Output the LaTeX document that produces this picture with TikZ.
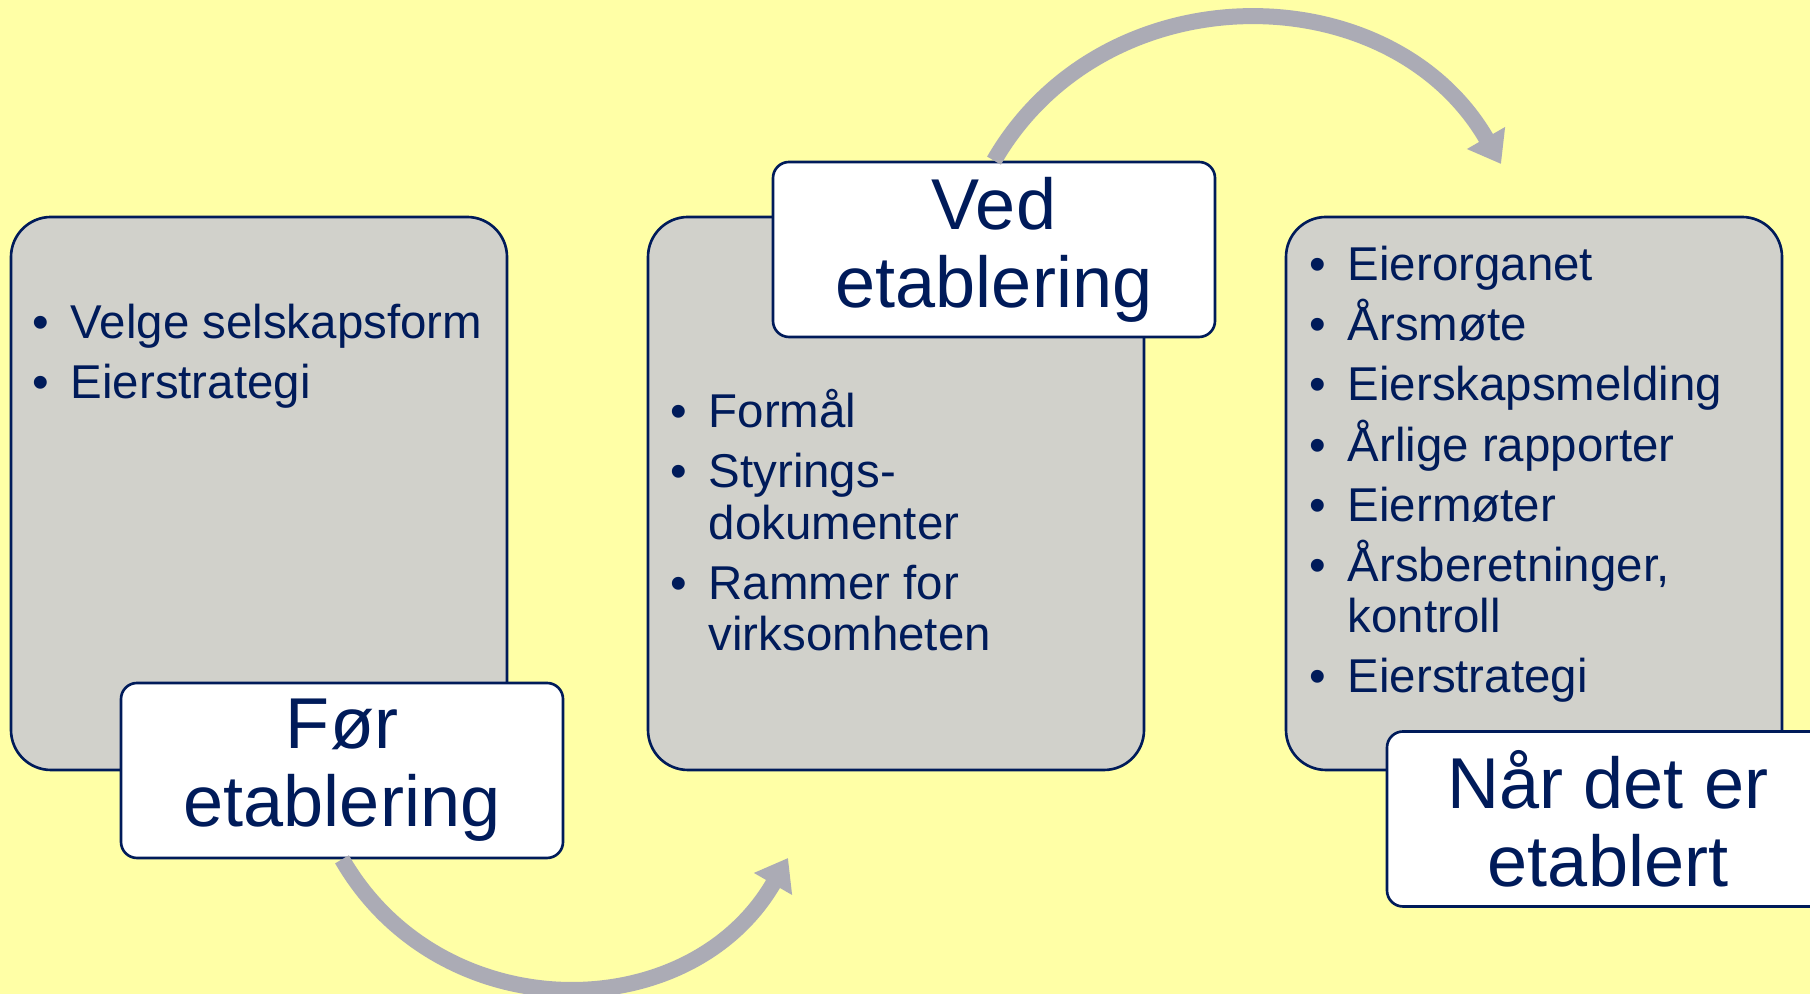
\documentclass[tikz,border=0pt]{standalone}
\usepackage{fontspec}
\setmainfont{Liberation Sans}
\usetikzlibrary{arrows.meta}

\definecolor{bgyellow}{HTML}{FFFFA6}
\definecolor{boxgray}{HTML}{D1D1CB}
\definecolor{navy}{HTML}{001B5A}
\definecolor{arrowgray}{HTML}{ABABB5}

\newcommand{\itm}{\llap{\textbullet\hspace{0.217cm}}}

\begin{document}
\begin{tikzpicture}[
  stagebox/.style={draw=navy, line width=0.75pt, fill=boxgray, rounded corners=0.4cm, minimum width=4.96cm, minimum height=5.53cm, inner sep=0pt},
  stagelabel/.style={draw=navy, line width=0.75pt, fill=white, rounded corners=0.16cm, minimum width=4.42cm, minimum height=1.75cm, inner sep=0pt, align=center, text=navy, font=\fontsize{20.5pt}{22.2pt}\selectfont, execute at begin node=\rule{0pt}{0.62cm}},
  itemlist/.style={anchor=base west, inner sep=0pt, align=left, text=navy, font=\fontsize{13.5pt}{14.7pt}\selectfont},
  flow/.style={draw=arrowgray, line width=0.16cm, -{Triangle[length=0.30cm, width=0.42cm]}}]

% background
\fill[bgyellow] (0,0) rectangle (18.10,9.94);
\useasboundingbox (0,0) rectangle (18.10,9.94);

% Left stage (Foer etablering)
\node[stagebox] (b1) at (2.59,5.005) {};
\node[itemlist] (l1) at (0.70,5.95) {\itm Velge selskapsform\\[2.4pt]\itm Eierstrategi};
\node[stagelabel] (t1) at (3.42,2.235) {Før\\etablering};

% Middle stage (Ved etablering)
\node[stagebox] (b2) at (8.96,5.005) {};
\node[itemlist] (l2) at (7.08,3.43) {\itm Formål\\[2.4pt]\itm Styrings-\\dokumenter\\[2.4pt]\itm Rammer for\\virksomheten};
\node[stagelabel] (t2) at (9.94,7.445) {Ved\\etablering};

% Right stage (Naar det er etablert)
\node[stagebox] (b3) at (15.34,5.005) {};
\node[itemlist] (l3) at (13.47,3.01) {\itm Eierorganet\\[2.4pt]\itm Årsmøte\\[2.4pt]\itm Eierskapsmelding\\[2.4pt]\itm Årlige rapporter\\[2.4pt]\itm Eiermøter\\[2.4pt]\itm Årsberetninger,\\kontroll\\[2.4pt]\itm Eierstrategi};
\node[stagelabel] (t3) at (16.08,1.75) {Når det er\\etablert};

% arrows between stages
\coordinate (tip1) at (7.88,1.36);
\coordinate (tip2) at (15.01,8.30);
\draw[flow] (t1.south) to[out=-60, in=240, looseness=1.13] (tip1);
\draw[flow] (t2.north) to[out=60, in=120, looseness=1.11] (tip2);

\end{tikzpicture}
\end{document}
